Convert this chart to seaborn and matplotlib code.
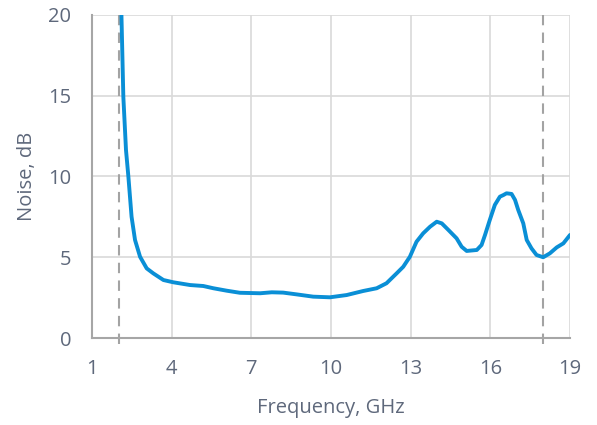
import matplotlib
matplotlib.use("Agg")
import matplotlib.pyplot as plt
import seaborn as sns
import pandas as pd

freq_ghz = [2.10, 2.18, 2.28, 2.37, 2.49, 2.62, 2.81, 3.06, 3.31, 3.69, 4.06, 4.69,
            5.19, 5.57, 6.07, 6.57, 7.33, 7.77, 8.20, 8.71, 9.33, 9.96, 10.59, 11.21,
            11.72, 12.09, 12.47, 12.72, 12.97, 13.22, 13.47, 13.73, 13.98, 14.17,
            14.42, 14.73, 14.92, 15.11, 15.49, 15.67, 15.80, 15.98, 16.17, 16.36,
            16.49, 16.61, 16.80, 16.93, 17.05, 17.24, 17.37, 17.55, 17.74, 17.99,
            18.24, 18.50, 18.75, 19.0]
noise_db = [20.6, 14.94, 11.64, 9.99, 7.51, 6.07, 5.03, 4.31, 4.00, 3.59, 3.45, 3.28,
            3.22, 3.08, 2.93, 2.80, 2.77, 2.83, 2.81, 2.70, 2.56, 2.52, 2.66, 2.91,
            3.08, 3.39, 4.00, 4.41, 5.03, 5.96, 6.48, 6.89, 7.20, 7.10,
            6.69, 6.17, 5.65, 5.39, 5.45, 5.76, 6.38, 7.31, 8.24, 8.75,
            8.85, 8.96, 8.92, 8.55, 7.93, 7.10, 6.07, 5.55, 5.14, 5.00,
            5.24, 5.61, 5.86, 6.38]
band_edges_ghz = [2, 18]
x_ticks = [1, 4, 7, 10, 13, 16, 19]
y_ticks = [0, 5, 10, 15, 20]

df = pd.DataFrame({"Frequency": freq_ghz, "Noise": noise_db})

sns.set_theme(style="white")
plt.rcParams['font.family'] = ['Open Sans', 'DejaVu Sans']

text_color = "#5e687b"
fig = plt.figure(figsize=(5.97, 4.25), dpi=100)
ax = fig.add_axes([92/597, 1 - 338/425, (570-92)/597, (338-15)/425])

ax.set_xlim(1, 19)
ax.set_ylim(0, 20)
ax.set_xticks(x_ticks)
ax.set_yticks(y_ticks)
ax.grid(True, color="#d9d9d9", linewidth=1.2)
ax.set_axisbelow(True)

for x in band_edges_ghz:
    ax.plot([x, x], [-0.35, 20], color="#a3a3a3", linewidth=1.5,
            linestyle=(0, (5, 3.5)), clip_on=False, zorder=2)

sns.lineplot(data=df, x="Frequency", y="Noise", ax=ax, color="#0a8fd6",
             linewidth=2.8, sort=False, zorder=3)

for side in ["top", "right"]:
    ax.spines[side].set_visible(False)
for side in ["left", "bottom"]:
    ax.spines[side].set_color("#a6a6a6")
    ax.spines[side].set_linewidth(1.5)

ax.tick_params(axis="both", length=0, labelsize=14.5, colors=text_color)
ax.tick_params(axis="x", pad=15)
ax.tick_params(axis="y", pad=15)
ax.set_xlabel("Frequency, GHz", fontsize=14.5, color=text_color, labelpad=14)
ax.set_ylabel("Noise, dB", fontsize=14.5, color=text_color, labelpad=8)

fig.savefig("out.png", dpi=100)
